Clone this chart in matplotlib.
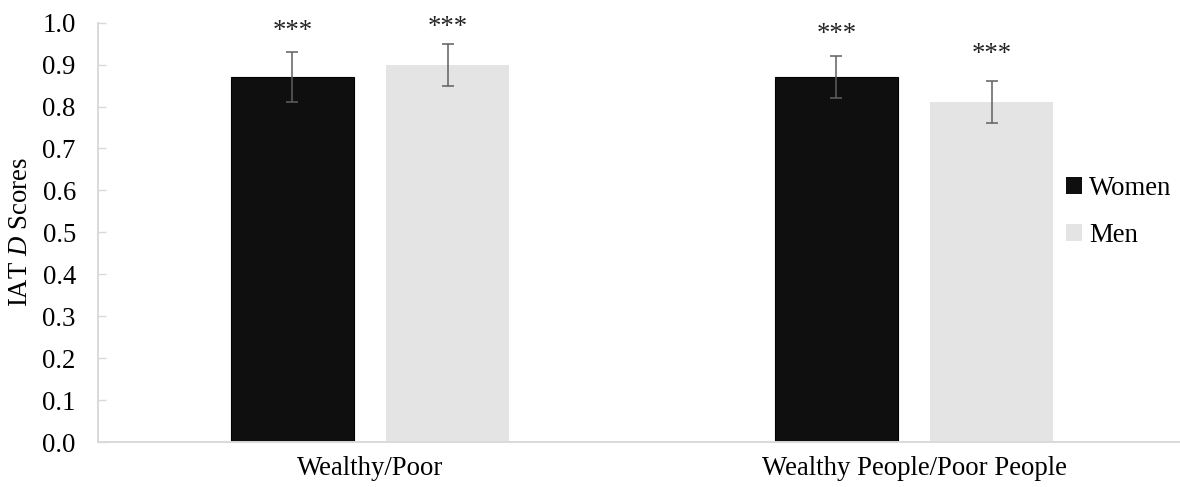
import matplotlib
matplotlib.use("Agg")
import matplotlib.pyplot as plt
from matplotlib.patches import Patch
import numpy as np

plt.rcParams['font.family'] = ['Liberation Serif', 'DejaVu Serif']
plt.rcParams['mathtext.fontset'] = 'custom'
plt.rcParams['mathtext.rm'] = 'Liberation Serif'
plt.rcParams['mathtext.it'] = 'Liberation Serif:italic'

# IAT D scores by participant gender
categories = ['Wealthy/Poor', 'Wealthy People/Poor People']
groups = ['Women', 'Men']
women = [0.87, 0.87]
men = [0.90, 0.81]
women_err = [0.06, 0.05]
men_err = [0.05, 0.05]
stars = ['***', '***', '***', '***']
star_y = [0.978, 0.988, 0.973, 0.923]  # women1, men1, women2, men2

colors = {'Women': '#0f0f0f', 'Men': '#e4e4e4'}
axis_grey = '#d9d9d9'
err_grey = '#5f5f5f'
fs = 19.3

fig = plt.figure(figsize=(11.8, 4.87), dpi=100)
ax = fig.add_axes([98/1180, 45/487, 1088/1180, 419.3/487])

x = np.arange(len(categories))
w = 0.226
off = 0.1425

ax.bar(x - off, women, w, color=colors['Women'], edgecolor='#000000', linewidth=0.8, zorder=2)
ax.bar(x + off, men, w, color=colors['Men'], edgecolor='none', zorder=2)
ax.errorbar(x - off, women, yerr=women_err, fmt='none', ecolor=err_grey,
            elinewidth=1.1, capsize=4.3, capthick=1.1, zorder=3)
ax.errorbar(x + off, men, yerr=men_err, fmt='none', ecolor=err_grey,
            elinewidth=1.1, capsize=4.3, capthick=1.1, zorder=3)

xs = [x[0] - off, x[0] + off, x[1] - off, x[1] + off]
for xi, yi, s in zip(xs, star_y, stars):
    ax.text(xi, yi, s, ha='center', va='center', fontsize=fs, color='#222222')

ax.set_xlim(-0.5, 1.5)
ax.set_ylim(0, 1.0)
ax.set_yticks(np.arange(0, 1.01, 0.1))
ax.set_yticklabels([f'{v:.1f}' for v in np.arange(0, 1.01, 0.1)])
ax.set_xticks(x)
ax.set_xticklabels(categories)
ax.tick_params(axis='y', direction='in', length=5.5, width=1, color=axis_grey,
               labelsize=fs, pad=16)
ax.tick_params(axis='x', length=0, labelsize=fs, pad=10)

for s in ['top', 'right']:
    ax.spines[s].set_visible(False)
for s in ['left', 'bottom']:
    ax.spines[s].set_color(axis_grey)
    ax.spines[s].set_linewidth(1.4)

fig.text(21/1180, 0.5 + (243.5 - 232)/487, 'IAT $\\mathit{D}$ Scores', rotation=90,
         ha='center', va='center', fontsize=fs)

handles = [Patch(facecolor=colors[g], edgecolor='none') for g in groups]
fig.legend(handles, groups, loc='center left', bbox_to_anchor=(1066/1180, 1 - 212/487),
           frameon=False, fontsize=fs, handlelength=0.6, handleheight=0.6,
           handletextpad=0.25, labelspacing=0.85, borderpad=0, borderaxespad=0)

fig.savefig('out.png', dpi=100)
